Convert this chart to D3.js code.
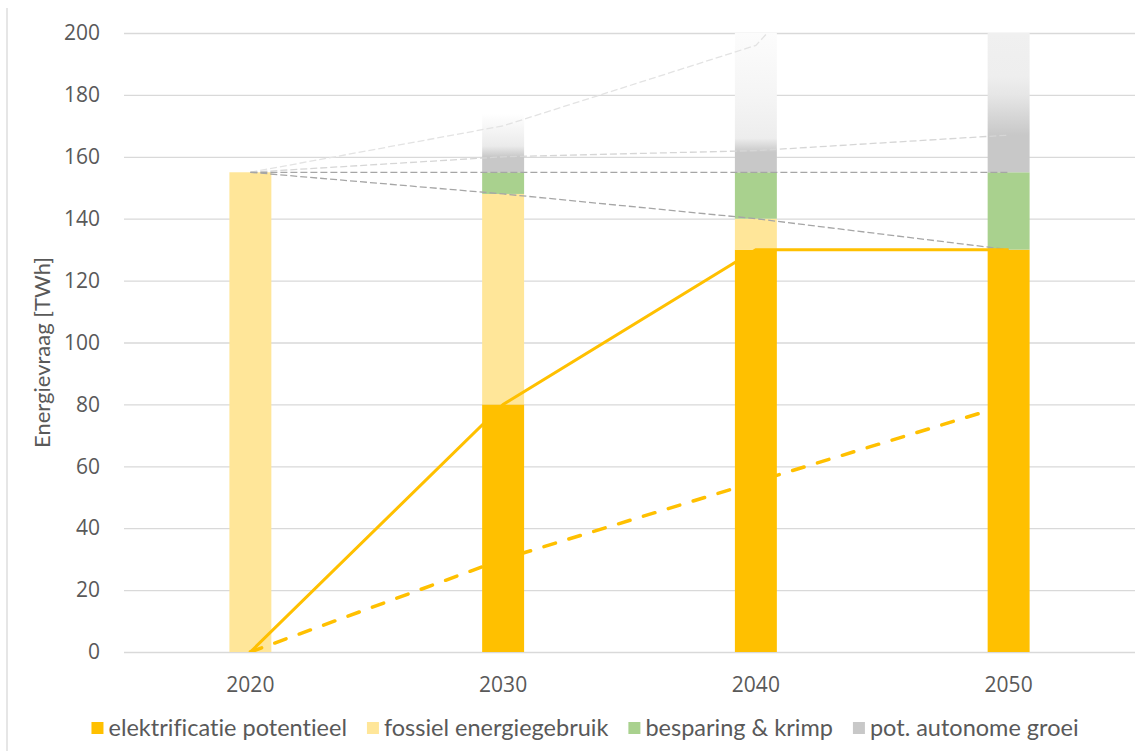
<!DOCTYPE html>
<html>
<head>
<meta charset="utf-8">
<script src="https://cdn.jsdelivr.net/npm/d3@7"></script>
<style>
  body { margin: 0; background: #fff; }
  svg { display: block; }
  text { font-variant-ligatures: none; }
</style>
</head>
<body>
<div id="chart"></div>
<script>
// categories
const years = ["2020", "2030", "2040", "2050"];

// stacked bar series (TWh)
const elektrificatie = [0, 80, 130, 130];
const fossiel = [155, 68, 10, 0];
const besparing = [0, 7, 15, 25];
const autonoom = [0, 19, 45, 45];

// line series (TWh)
const elekLijn = [0, 80, 130, 130];
const elekLijnLaag = [0, 30, 55, 80];
const trendDaling = [155, 148, 140, 130];
const trendGelijk = [155, 155, 155, 155];
const trendLaag = [155, 160, 162, 167];
const trendHoog = [155, 170, 196, 284];

const yTicks = [0, 20, 40, 60, 80, 100, 120, 140, 160, 180, 200];
const legendLabels = ["elektrificatie potentieel", "fossiel energiegebruik", "besparing & krimp", "pot. autonome groei"];

const W = 1137, H = 751;
const margin = { top: 33, right: 2, bottom: 99, left: 124 };
const textColor = "#595959";
const colors = ["#FFC000", "#FFE699", "#A9D18E", "#C8C8C8"];

// fade of the grey "autonome groei" blocks (value, colour), one per year
const greyFade = [
    [],
    [[155, "#c8c8c8"], [160, "#c8c8c8"], [163.5, "#ebebeb"], [174, "#ffffff"]],
    [[155, "#c8c8c8"], [161.5, "#c8c8c8"], [166, "#ededed"], [180, "#f5f5f5"], [200, "#fcfcfc"]],
    [[155, "#c8c8c8"], [167, "#c8c8c8"], [180, "#e6e6e6"], [186, "#eeeeee"], [200, "#f0f0f0"]]
];

const svg = d3.select("#chart").append("svg")
    .attr("width", W)
    .attr("height", H);

const x = d3.scaleBand()
    .domain(years)
    .range([margin.left, W - margin.right])
    .paddingInner(0.834)
    .paddingOuter(0.417);

const y = d3.scaleLinear()
    .domain([0, 200])
    .range([H - margin.bottom, margin.top]);

const cx = d => x(d) + x.bandwidth() / 2;

// chart border (left edge visible)
svg.append("line")
    .attr("x1", 7).attr("x2", 7)
    .attr("y1", 8).attr("y2", H)
    .attr("stroke", "#d9d9d9")
    .attr("stroke-width", 1.3);

// gridlines + y labels
const yAxis = d3.axisLeft(y)
    .tickValues(yTicks)
    .tickSize(-(W - margin.left - margin.right))
    .tickPadding(24);

const yG = svg.append("g")
    .attr("transform", `translate(${margin.left},0)`)
    .call(yAxis);
yG.select(".domain").remove();
yG.selectAll(".tick line")
    .attr("stroke", "#d9d9d9")
    .attr("stroke-width", 1.3);
yG.selectAll(".tick text")
    .attr("fill", textColor)
    .style("font-family", "'Open Sans', sans-serif")
    .style("font-size", "21px");

// x labels
const xAxis = d3.axisBottom(x).tickSize(0).tickPadding(25);
const xG = svg.append("g")
    .attr("transform", `translate(0,${H - margin.bottom})`)
    .call(xAxis);
xG.select(".domain").remove();
xG.selectAll(".tick text")
    .attr("fill", textColor)
    .style("font-family", "'Open Sans', sans-serif")
    .style("font-size", "21px");

// y title
svg.append("text")
    .attr("transform", `translate(50,${(margin.top + H - margin.bottom) / 2 + 10}) rotate(-90)`)
    .attr("text-anchor", "middle")
    .attr("fill", textColor)
    .style("font-family", "Lato, sans-serif")
    .style("font-size", "22px")
    .text("Energievraag [TWh]");

// clip to plot area
const defs = svg.append("defs");
defs.append("clipPath").attr("id", "plot")
    .append("rect")
    .attr("x", margin.left).attr("y", margin.top)
    .attr("width", W - margin.left - margin.right)
    .attr("height", H - margin.top - margin.bottom);

// gradients for grey blocks
greyFade.forEach((stops, i) => {
    if (!stops.length) return;
    const g = defs.append("linearGradient")
        .attr("id", "fade" + i)
        .attr("gradientUnits", "userSpaceOnUse")
        .attr("x1", 0).attr("x2", 0)
        .attr("y1", y(155)).attr("y2", y(200));
    stops.forEach(([v, c]) => {
        g.append("stop")
            .attr("offset", (v - 155) / 45)
            .attr("stop-color", c);
    });
});

// stacked bars
const table = years.map((yr, i) => ({
    year: yr,
    elek: elektrificatie[i],
    fos: fossiel[i],
    besp: besparing[i],
    auto: autonoom[i]
}));
const stack = d3.stack().keys(["elek", "fos", "besp", "auto"])(table);

const plot = svg.append("g").attr("clip-path", "url(#plot)");

plot.selectAll(".layer")
    .data(stack)
    .join("g")
    .attr("class", "layer")
    .selectAll("rect")
    .data((layer, k) => layer.map((d, i) => ({ d, k, i })))
    .join("rect")
    .attr("x", o => x(o.d.data.year))
    .attr("width", x.bandwidth())
    .attr("y", o => y(o.d[1]))
    .attr("height", o => Math.max(0, y(o.d[0]) - y(o.d[1])))
    .attr("fill", o => o.k === 3 ? `url(#fade${o.i})` : colors[o.k]);

// dashed grey trend lines
const line = d3.line()
    .x((v, i) => cx(years[i]))
    .y(v => y(v));

const greyLines = [
    { data: trendHoog, color: "#e3e3e3" },
    { data: trendLaag, color: "#d6d6d6" },
    { data: trendGelijk, color: "#a6a6a6" },
    { data: trendDaling, color: "#a6a6a6" }
];
plot.selectAll(".trend")
    .data(greyLines)
    .join("path")
    .attr("class", "trend")
    .attr("d", d => line(d.data))
    .attr("fill", "none")
    .attr("stroke", d => d.color)
    .attr("stroke-width", 1.3)
    .attr("stroke-dasharray", "7,3");

// electrification lines
plot.append("path")
    .attr("d", line(elekLijnLaag))
    .attr("fill", "none")
    .attr("stroke", "#FFC000")
    .attr("stroke-width", 3.5)
    .attr("stroke-linecap", "round")
    .attr("stroke-dasharray", "12,14");

plot.append("path")
    .attr("d", line(elekLijn))
    .attr("fill", "none")
    .attr("stroke", "#FFC000")
    .attr("stroke-width", 3);

// legend
const legend = svg.append("g");
const items = legend.selectAll("g")
    .data(legendLabels)
    .join("g");
items.append("rect")
    .attr("width", 12).attr("height", 12)
    .attr("y", -6)
    .attr("fill", (d, i) => colors[i]);
items.append("text")
    .attr("x", 17)
    .attr("dy", "0.35em")
    .attr("fill", textColor)
    .style("font-family", "Lato, sans-serif")
    .style("font-size", "23.5px")
    .text(d => d);

let offset = 0;
const gap = 20;
items.each(function () {
    const w = 17 + d3.select(this).select("text").node().getComputedTextLength();
    d3.select(this).attr("transform", `translate(${offset},0)`);
    offset += w + gap;
});
const total = offset - gap;
legend.attr("transform", `translate(${585 - total / 2},728)`);
</script>
</body>
</html>
